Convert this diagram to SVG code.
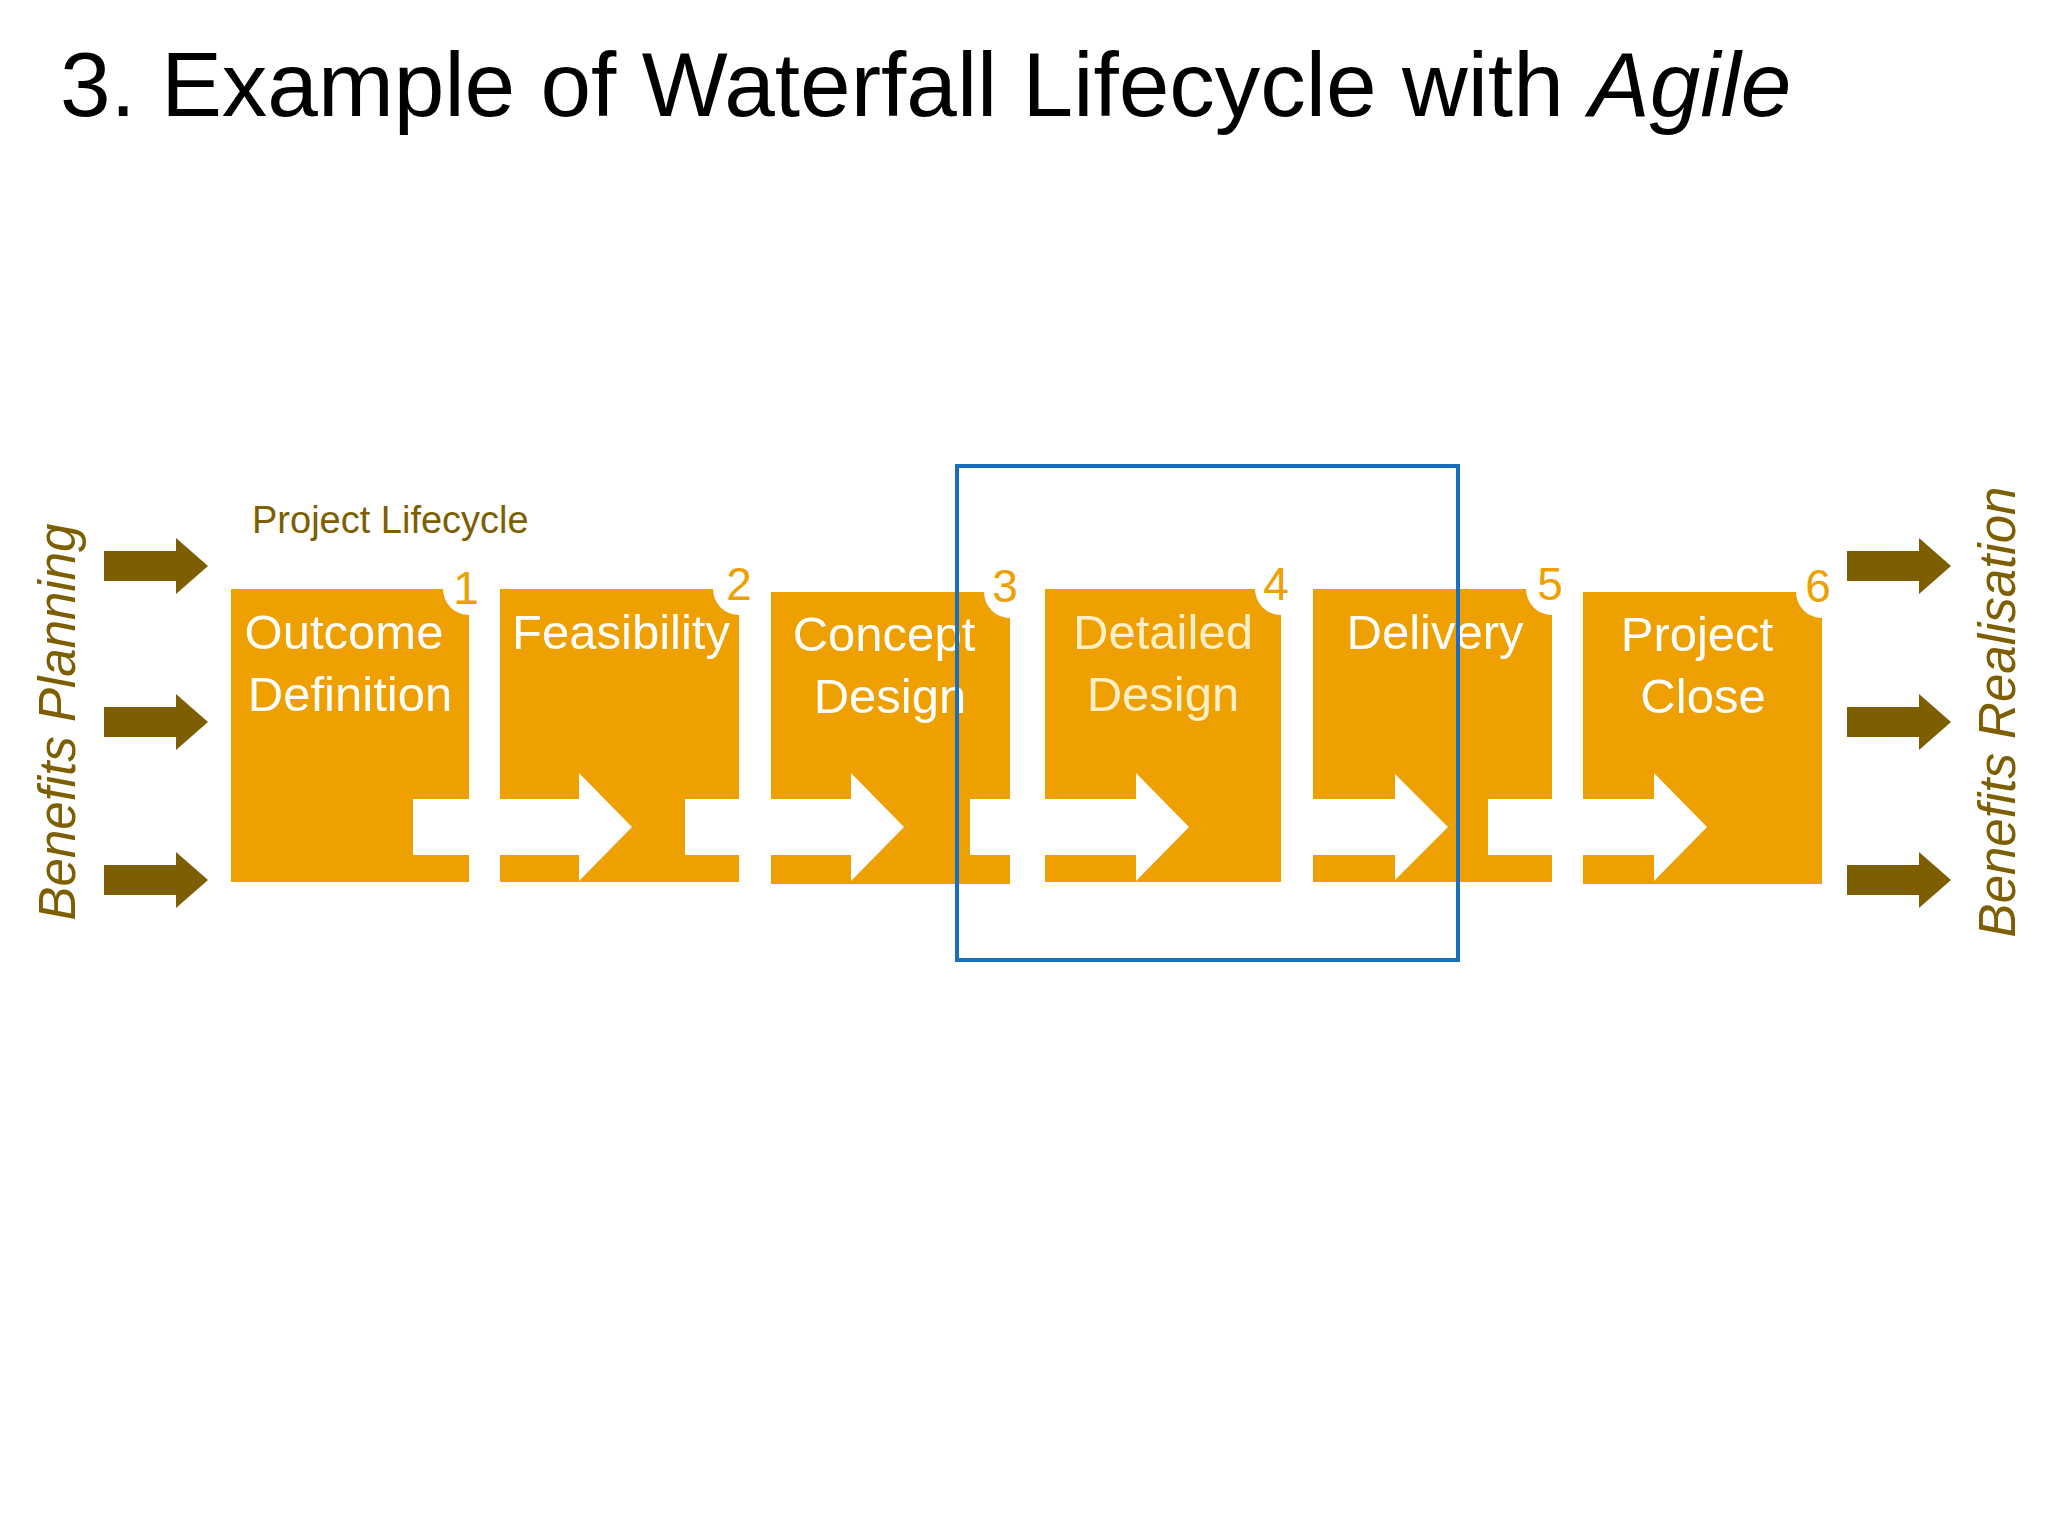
<svg xmlns="http://www.w3.org/2000/svg" width="2048" height="1536" viewBox="0 0 2048 1536">
<style>
.box{fill:#EDA000}
.lbl{font-family:"Liberation Sans",Arial,sans-serif;font-size:49px;fill:#fff;text-anchor:middle}
.num{font-family:"Liberation Sans",Arial,sans-serif;font-size:46px;fill:#EDA000;text-anchor:middle}
.wa{fill:#fff}
.ba{fill:#7D5E00}
.side{font-family:"Liberation Sans",Arial,sans-serif;font-size:51px;font-style:italic;fill:#7D5E00;text-anchor:middle}
</style>
<defs>
<path id="brown" d="M0,-15 H72 V-28 L104,0 L72,28 V15 H0 Z"/>
<path id="white" d="M0,-28 H166 V-54 L219,0 L166,54 V28 H0 Z"/>
</defs>
<rect width="2048" height="1536" fill="#fff"/>
<text x="60" y="116" font-family="Liberation Sans,Arial,sans-serif" font-size="91" fill="#000">3. Example of Waterfall Lifecycle with <tspan font-style="italic">Agile</tspan></text>
<text x="252" y="533" font-family="Liberation Sans,Arial,sans-serif" font-size="38" fill="#7D5E00">Project Lifecycle</text>
<g id="n1"><rect class="box" x="231" y="589" width="238" height="293"/><circle cx="469" cy="589" r="26" fill="#fff"/><text class="num" x="466" y="604">1</text><text class="lbl" x="344" y="649">Outcome</text><text class="lbl" x="350" y="711">Definition</text></g>
<g id="n2"><rect class="box" x="500" y="589" width="239" height="293"/><circle cx="739" cy="589" r="26" fill="#fff"/><text class="num" x="739" y="600">2</text><text class="lbl" x="621" y="649">Feasibility</text></g>
<g id="n3"><rect class="box" x="771" y="592" width="239" height="292"/><circle cx="1010" cy="592" r="26" fill="#fff"/><text class="num" x="1005" y="602">3</text><text class="lbl" x="884" y="651">Concept</text><text class="lbl" x="890" y="713">Design</text></g>
<g id="n4"><rect class="box" x="1045" y="589" width="236" height="293"/><circle cx="1281" cy="589" r="26" fill="#fff"/><text class="num" x="1276" y="600">4</text><text class="lbl" x="1163" y="649" style="fill:#FFEFC8">Detailed</text><text class="lbl" x="1163" y="711" style="fill:#FFEFC8">Design</text></g>
<g id="n5"><rect class="box" x="1313" y="589" width="239" height="293"/><circle cx="1552" cy="589" r="26" fill="#fff"/><text class="num" x="1550" y="600">5</text><text class="lbl" x="1435" y="649">Delivery</text></g>
<g id="n6"><rect class="box" x="1583" y="592" width="239" height="292"/><circle cx="1822" cy="592" r="26" fill="#fff"/><text class="num" x="1818" y="602">6</text><text class="lbl" x="1697" y="651">Project</text><text class="lbl" x="1703" y="713">Close</text></g>
<g id="connectors">
<use href="#white" x="413" y="827" fill="#fff"/>
<use href="#white" x="685" y="827" fill="#fff"/>
<use href="#white" x="970" y="827" fill="#fff"/>
<path class="wa" d="M1281,799 H1395 V774 L1448,827 L1395,880 V855 H1281 Z"/>
<use href="#white" x="1488" y="827" fill="#fff"/>
<use href="#brown" x="104" y="566" fill="#7D5E00"/>
<use href="#brown" x="104" y="722" fill="#7D5E00"/>
<use href="#brown" x="104" y="880" fill="#7D5E00"/>
<use href="#brown" x="1847" y="566" fill="#7D5E00"/>
<use href="#brown" x="1847" y="722" fill="#7D5E00"/>
<use href="#brown" x="1847" y="880" fill="#7D5E00"/>
</g>
<text class="side" transform="translate(75,722) rotate(-90)">Benefits Planning</text>
<text class="side" transform="translate(2015,712) rotate(-90)">Benefits Realisation</text>
<rect x="957" y="466" width="501" height="494" fill="none" stroke="#1A6EBF" stroke-width="4"/>
</svg>
